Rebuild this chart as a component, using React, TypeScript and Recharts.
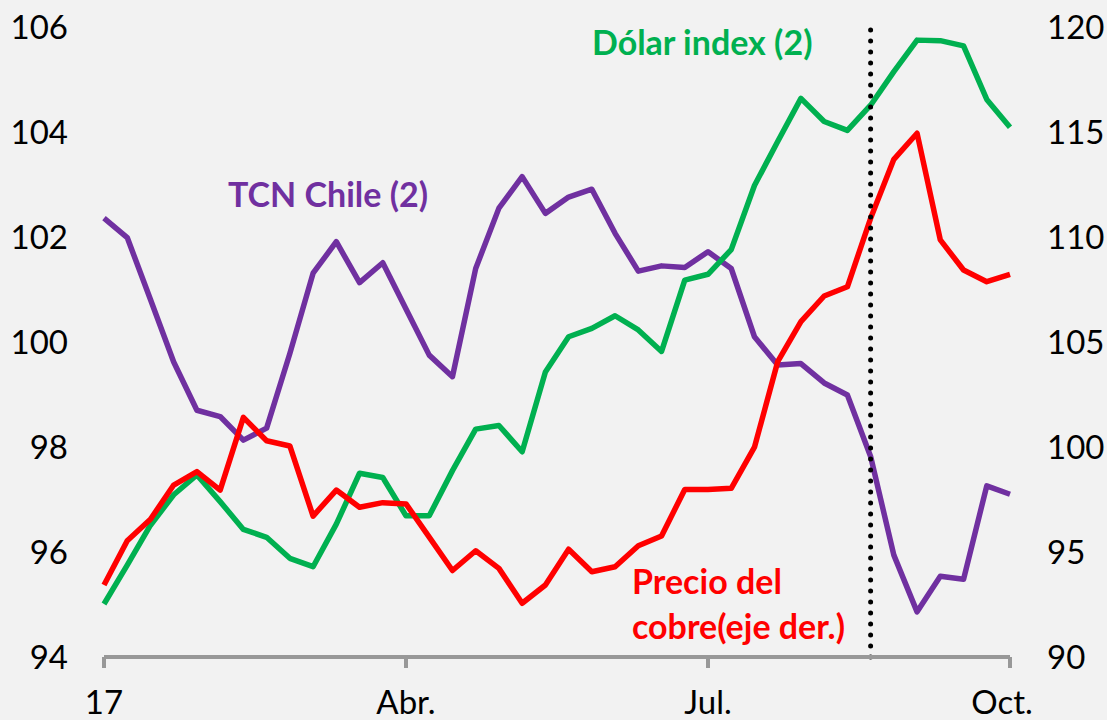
import React from 'react';
import { LineChart, Line, XAxis, YAxis, ReferenceLine } from 'recharts';

// Weekly observations (index 0 = first week of 2017 ... 39 = early October)
const weeks: number[] = Array.from({ length: 40 }, (_, i) => i);

const tcnChile: number[] = [
  102.36, 101.99, 100.81, 99.62, 98.7, 98.58, 98.13, 98.36, 99.78, 101.31,
  101.91, 101.13, 101.51, 100.63, 99.75, 99.34, 101.4, 102.55, 103.15, 102.45,
  102.76, 102.91, 102.07, 101.35, 101.45, 101.42, 101.72, 101.4, 100.1, 99.56,
  99.59, 99.22, 98.99, 97.82, 95.94, 94.86, 95.54, 95.48, 97.26, 97.1,
];

const dolarIndex: number[] = [
  95.01, 95.75, 96.51, 97.09, 97.47, 96.96, 96.43, 96.28, 95.88, 95.72,
  96.53, 97.5, 97.42, 96.69, 96.69, 97.55, 98.34, 98.41, 97.91, 99.43,
  100.1, 100.26, 100.5, 100.23, 99.82, 101.18, 101.29, 101.76, 102.98, 103.82,
  104.64, 104.2, 104.03, 104.51, 105.15, 105.75, 105.74, 105.64, 104.62, 104.09,
];

const precioCobre: number[] = [
  93.43, 95.54, 96.56, 98.19, 98.83, 97.95, 101.41, 100.3, 100.05, 96.71,
  97.95, 97.13, 97.35, 97.29, 95.71, 94.12, 95.06, 94.22, 92.56, 93.43,
  95.13, 94.06, 94.3, 95.3, 95.76, 97.98, 97.98, 98.03, 99.99, 104.06,
  105.97, 107.19, 107.63, 110.89, 113.7, 114.94, 109.86, 108.43, 107.87, 108.22,
];

const xTickValues: number[] = [0, 13, 26, 39];
const xTickLabels: string[] = ['17', 'Abr.', 'Jul.', 'Oct.'];
const leftTicks: number[] = [94, 96, 98, 100, 102, 104, 106];
const rightTicks: number[] = [90, 95, 100, 105, 110, 115, 120];
const markerWeek = 33;

const data = weeks.map((w, i) => ({
  w,
  tcn: tcnChile[i],
  dxy: dolarIndex[i],
  cobre: precioCobre[i],
}));

const FONT = 'Lato, "Open Sans", sans-serif';
const AXIS_GRAY = '#989898';

const XTick = (props: any) => {
  const { x, y, payload } = props;
  const idx = xTickValues.indexOf(payload.value);
  const label = idx >= 0 ? xTickLabels[idx] : '';
  const dx = idx === xTickValues.length - 1 ? -8 : 0;
  return (
    <text x={x + dx} y={y} dy={46} textAnchor="middle" fontSize={33} fill="#000" fontFamily={FONT}>
      {label}
    </text>
  );
};

const YTick = (props: any) => {
  const { x, y, payload, anchor } = props;
  return (
    <text x={x} y={y} dy={12} textAnchor={anchor} fontSize={33} fill="#000" fontFamily={FONT}>
      {payload.value}
    </text>
  );
};

const annotationStyle: React.CSSProperties = {
  position: 'absolute',
  fontFamily: FONT,
  fontWeight: 700,
  fontSize: 34,
  lineHeight: '45px',
  whiteSpace: 'nowrap',
};

export default function App() {
  return (
    <div
      style={{
        position: 'fixed',
        left: 0,
        top: 0,
        width: 1107,
        height: 720,
        background: '#F2F2F2',
        overflow: 'hidden',
      }}
    >
      <LineChart width={1107} height={720} data={data} margin={{ top: 27, right: 0, bottom: 0, left: 0 }}>
        <XAxis
          dataKey="w"
          type="number"
          domain={[0, 39]}
          ticks={xTickValues}
          interval={0}
          height={63}
          axisLine={{ stroke: AXIS_GRAY, strokeWidth: 4 }}
          tickLine={{ stroke: AXIS_GRAY, strokeWidth: 4 }}
          tickSize={11}
          tickMargin={0}
          tick={<XTick />}
        />
        <YAxis
          yAxisId="left"
          orientation="left"
          domain={[94, 106]}
          ticks={leftTicks}
          interval={0}
          width={104}
          axisLine={false}
          tickLine={false}
          tickSize={0}
          tickMargin={36}
          tick={<YTick anchor="end" />}
        />
        <YAxis
          yAxisId="right"
          orientation="right"
          domain={[90, 120]}
          ticks={rightTicks}
          interval={0}
          width={97}
          axisLine={false}
          tickLine={false}
          tickSize={0}
          tickMargin={37}
          tick={<YTick anchor="start" />}
        />
        <Line
          yAxisId="left"
          type="linear"
          dataKey="tcn"
          stroke="#7030A0"
          strokeWidth={5.5}
          dot={false}
          strokeLinejoin="round"
          isAnimationActive={false}
        />
        <Line
          yAxisId="left"
          type="linear"
          dataKey="dxy"
          stroke="#00B050"
          strokeWidth={5.5}
          dot={false}
          strokeLinejoin="round"
          isAnimationActive={false}
        />
        <Line
          yAxisId="right"
          type="linear"
          dataKey="cobre"
          stroke="#FF0000"
          strokeWidth={5.5}
          dot={false}
          strokeLinejoin="round"
          isAnimationActive={false}
        />
        <ReferenceLine
          yAxisId="left"
          x={markerWeek}
          stroke="#000"
          strokeWidth={5}
          strokeDasharray="0 11"
          strokeLinecap="round"
        />
      </LineChart>
      <div style={{ ...annotationStyle, left: 592, top: 19, color: '#00B050' }}>Dólar index (2)</div>
      <div style={{ ...annotationStyle, left: 228, top: 171, color: '#7030A0' }}>TCN Chile (2)</div>
      <div style={{ ...annotationStyle, left: 632, top: 558, color: '#FF0000' }}>
        Precio del
        <br />
        cobre(eje der.)
      </div>
    </div>
  );
}
